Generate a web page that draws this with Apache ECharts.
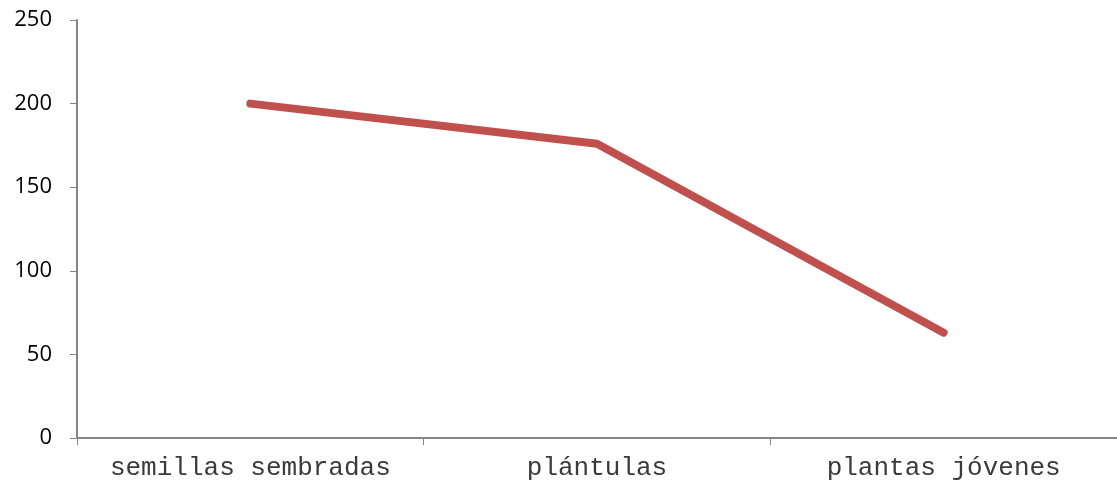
<!DOCTYPE html>
<html>
<head>
<meta charset="utf-8">
<script src="https://cdn.jsdelivr.net/npm/echarts@6/dist/echarts.min.js"></script>
<style>
  html, body { margin: 0; padding: 0; background: #fff; }
  #chart { width: 1117px; height: 486px; }
</style>
</head>
<body>
<div id="chart"></div>
<script>
// Stages of plant development and the number of individuals at each stage
const categories = ['semillas sembradas', 'plántulas', 'plantas jóvenes'];
const counts = [200, 176, 63];
const yTicks = { min: 0, max: 250, interval: 50 };

const chart = echarts.init(document.getElementById('chart'), null, { renderer: 'canvas' });

const axisGray = '#868686';

chart.setOption({
  animation: false,
  backgroundColor: '#ffffff',
  grid: { left: 77, right: -8, top: 20, bottom: 48, containLabel: false },
  xAxis: {
    type: 'category',
    data: categories,
    boundaryGap: true,
    axisLine: { lineStyle: { color: axisGray, width: 2 } },
    axisTick: { show: true, interval: 0, length: 7, lineStyle: { color: axisGray, width: 1 } },
    axisLabel: {
      interval: 0,
      hideOverlap: false,
      fontFamily: '"Liberation Mono", "Courier New", monospace',
      fontSize: 26,
      color: '#3a3a3a',
      margin: 17
    },
    splitLine: { show: false }
  },
  yAxis: {
    type: 'value',
    min: yTicks.min,
    max: yTicks.max,
    interval: yTicks.interval,
    axisLine: { show: true, lineStyle: { color: axisGray, width: 2 } },
    axisTick: { show: true, length: 7, lineStyle: { color: axisGray, width: 1 } },
    axisLabel: {
      fontFamily: '"Open Sans", "Liberation Sans", sans-serif',
      fontSize: 22,
      color: '#000',
      margin: 25
    },
    splitLine: { show: false }
  },
  series: [{
    type: 'line',
    data: counts,
    symbol: 'none',
    lineStyle: { color: '#c0504d', width: 8, cap: 'round', join: 'round' },
    itemStyle: { color: '#c0504d' }
  }]
});
</script>
</body>
</html>
